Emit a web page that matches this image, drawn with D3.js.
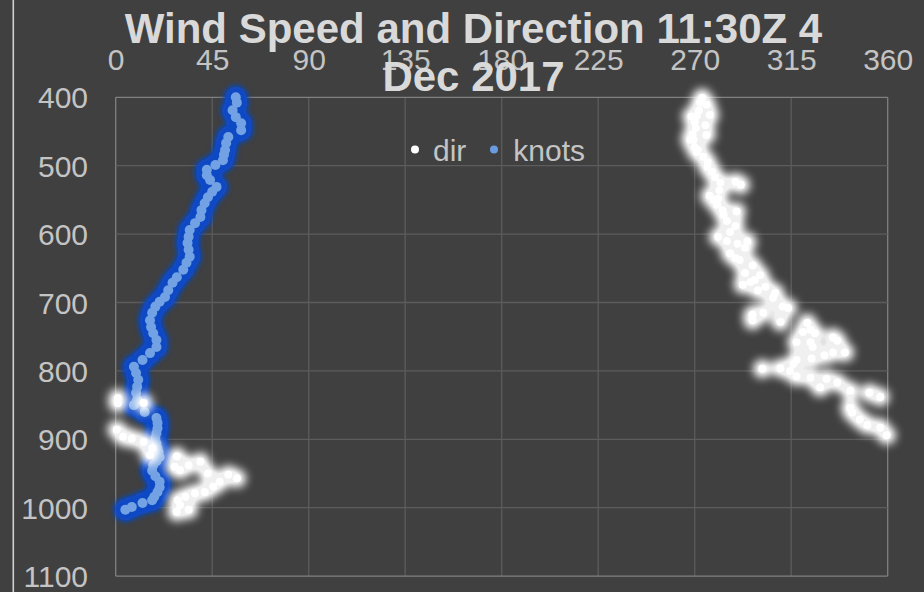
<!DOCTYPE html>
<html>
<head>
<meta charset="utf-8">
<script src="https://cdn.jsdelivr.net/npm/d3@7"></script>
<style>
  html, body { margin: 0; padding: 0; background: #404040; }
  svg { display: block; }
  text { font-family: "Liberation Sans", Arial, sans-serif; }
</style>
</head>
<body>
<svg id="chart" width="924" height="592"></svg>
<script>
// ---------- data ----------
const titleLines = ["Wind Speed and Direction 11:30Z 4", "Dec 2017"];
const xTicks = [0, 45, 90, 135, 180, 225, 270, 315, 360];
const yTicks = [400, 500, 600, 700, 800, 900, 1000, 1100];
const seriesNames = ["dir", "knots"];

// knots series: pressure (hPa) and wind speed (knots)
const knotsP = [400,408,419,429,438,448,458,467,477,484,492,499,506,514,521,531,538,546,555,565,
  575,584,594,604,613,623,633,642,652,663,671,682,692,699,706,715,726,736,745,755,
  765,774,784,794,803,813,823,832,842,850,860,869,876,884,891,898,906,913,919,926,
  932,938,946,954,962,970,977,984,989,993,999,1003];
const knotsV = [56,56.5,54.5,56,58.5,58.5,52.5,51.5,51,50.5,50,46.5,42.5,42.5,44,47,45,43,41.5,40,
  39.5,37,34.5,34,33.5,34,34.5,33,31.5,28.5,26.5,24.5,23,20.5,18.5,17,16,16.5,17.5,19,
  19,16,12.5,8.5,9.5,10.5,10,9.5,10,8.5,13.5,19,19.5,19.5,19,18.5,19,19.5,20,20.5,
  19,17.5,17,18.5,20.5,20.5,19.5,18,17,12.5,7.5,4.5];

// dir series: pressure (hPa) and wind direction (degrees)
const dirP = [401,408,411,419,426,427,428,436,441,445,454,455,462,462,473,477,480,487,495,502,
  509,517,525,524,528,536,544,548,550,557,565,567,572,581,588,597,604,610,611,614,
  620,628,635,638,646,657,660,667,670,674,677,682,686,
  693,706,708,715,718,726,728,730,740,743,745,751,756,758,758,765,773,773,777,782,
  784,790,796,797,800,808,810,812,817,824,829,832,838,840,847,847,854,861,871,879,
  883,886,894,896,899,904,913,923,925,933,938,940,945,950,952,957,962,969,977,979,
  984,989,996,1003,1006];
const dirV = [273.5,272.5,275.5,272,277,271,268.5,270,275,270.5,269,275.5,269.5,268,270,271.5,271,274,276,276,
  278,279.5,282,289,291.5,281.5,277,281,279,280.5,283,289.5,283.5,285,289,286.5,281,285,294.5,290,
  293.5,286.5,289,291,297,293.5,300.5,298,296,292.5,303,299.5,307.5,
  306.5,311,313.5,302,297,297,310,322.5,324,320.5,326,334.5,336.5,317.5,324,325,340,334.5,330.5,324.5,
  317.5,316,310,301.5,314.5,317.5,324,331.5,336.5,328.5,342.5,351.5,356.5,1,1,13,342.5,343.5,347,350.5,
  356.5,0.5,359.5,3.5,7.5,13,17,16,28.5,39.5,34,27.5,30,43,52.5,56.5,48.5,45.5,41.5,37,
  32.5,29,30,34,28.5];

// ---------- chart ----------
const svg = d3.select("#chart");
const W = 924, H = 592;
const plot = {left: 115.7, right: 887.7, top: 97.3, bottom: 576.1};

const x = d3.scaleLinear().domain([0, 360]).range([plot.left, plot.right]);
const y = d3.scaleLinear().domain([400, 1100]).range([plot.top, plot.bottom]);

svg.append("rect").attr("width", W).attr("height", H).attr("fill", "#404040");

const defs = svg.append("defs");
function glowFilter(id, std, slope) {
  const f = defs.append("filter").attr("id", id)
    .attr("filterUnits", "userSpaceOnUse").attr("x", 0).attr("y", 0).attr("width", W).attr("height", H);
  f.append("feGaussianBlur").attr("stdDeviation", std).attr("result", "b");
  f.append("feComponentTransfer").attr("in", "b")
    .append("feFuncA").attr("type", "linear").attr("slope", slope);
}
glowFilter("glowW", 5, 1.25);
glowFilter("glowB", 3, 1.7);

// left border line
svg.append("line").attr("x1", 13.3).attr("x2", 13.3).attr("y1", 0).attr("y2", H)
  .attr("stroke", "#cfcfcf").attr("stroke-width", 1.6);

// gridlines
const grid = svg.append("g");
grid.selectAll("line.v").data(xTicks).join("line")
  .attr("x1", d => x(d)).attr("x2", d => x(d))
  .attr("y1", plot.top).attr("y2", plot.bottom)
  .attr("stroke", d => (d === 0 || d === 360) ? "#808080" : "#5c5c5c").attr("stroke-width", 1.3);
grid.selectAll("line.h").data(yTicks).join("line")
  .attr("x1", plot.left).attr("x2", plot.right)
  .attr("y1", d => y(d)).attr("y2", d => y(d))
  .attr("stroke", d => (d === 400 || d === 1100) ? "#808080" : "#5c5c5c").attr("stroke-width", 1.3);

// axes
const xAxis = svg.append("g").attr("transform", `translate(0,${plot.top})`)
  .call(d3.axisTop(x).tickValues(xTicks).tickFormat(d3.format("d")).tickSize(0).tickPadding(27.3));
xAxis.select(".domain").remove();
xAxis.selectAll("text").attr("fill", "#c4c4c4").style("font-size", "30px");

const yAxis = svg.append("g").attr("transform", `translate(${plot.left},0)`)
  .call(d3.axisLeft(y).tickValues(yTicks).tickFormat(d3.format("d")).tickSize(0).tickPadding(27.7));
yAxis.select(".domain").remove();
yAxis.selectAll("text").attr("fill", "#c4c4c4").attr("dy", "0.35em").style("font-size", "30px");

// data points
const knots = knotsP.map((p, i) => ({p, v: knotsV[i]}));
const dirs = dirP.map((p, i) => ({p, v: dirV[i]}));

svg.append("g").attr("filter", "url(#glowB)")
  .selectAll("circle").data(knots).join("circle")
  .attr("cx", d => x(d.v)).attr("cy", d => y(d.p)).attr("r", 10.5).attr("fill", "#1148c4");
svg.append("g").selectAll("circle").data(knots).join("circle")
  .attr("cx", d => x(d.v)).attr("cy", d => y(d.p)).attr("r", 5).attr("fill", "#73a2e4");

svg.append("g").attr("filter", "url(#glowW)").attr("opacity", 0.92)
  .selectAll("circle").data(dirs).join("circle")
  .attr("cx", d => x(d.v)).attr("cy", d => y(d.p)).attr("r", 9).attr("fill", "#ffffff");
svg.append("g").selectAll("circle").data(dirs).join("circle")
  .attr("cx", d => x(d.v)).attr("cy", d => y(d.p)).attr("r", 4).attr("fill", "#ffffff");

// legend
const legend = svg.append("g");
const legendItems = [
  {name: seriesNames[0], mx: 415, tx: 433, color: "#ffffff"},
  {name: seriesNames[1], mx: 494, tx: 513.3, color: "#6a9be0"}
];
legend.selectAll("circle").data(legendItems).join("circle")
  .attr("cx", d => d.mx).attr("cy", 149.5).attr("r", 4).attr("fill", d => d.color);
legend.selectAll("text").data(legendItems).join("text")
  .attr("x", d => d.tx).attr("y", 160.5).attr("fill", "#c4c4c4")
  .style("font-size", "30px").text(d => d.name);

// title
svg.append("g").selectAll("text").data(titleLines).join("text")
  .attr("x", 473.5).attr("y", (d, i) => 42.7 + i * 48)
  .attr("text-anchor", "middle").attr("fill", "#d9d9d9")
  .style("font-size", "42px").style("font-weight", "bold").text(d => d);
</script>
</body>
</html>
